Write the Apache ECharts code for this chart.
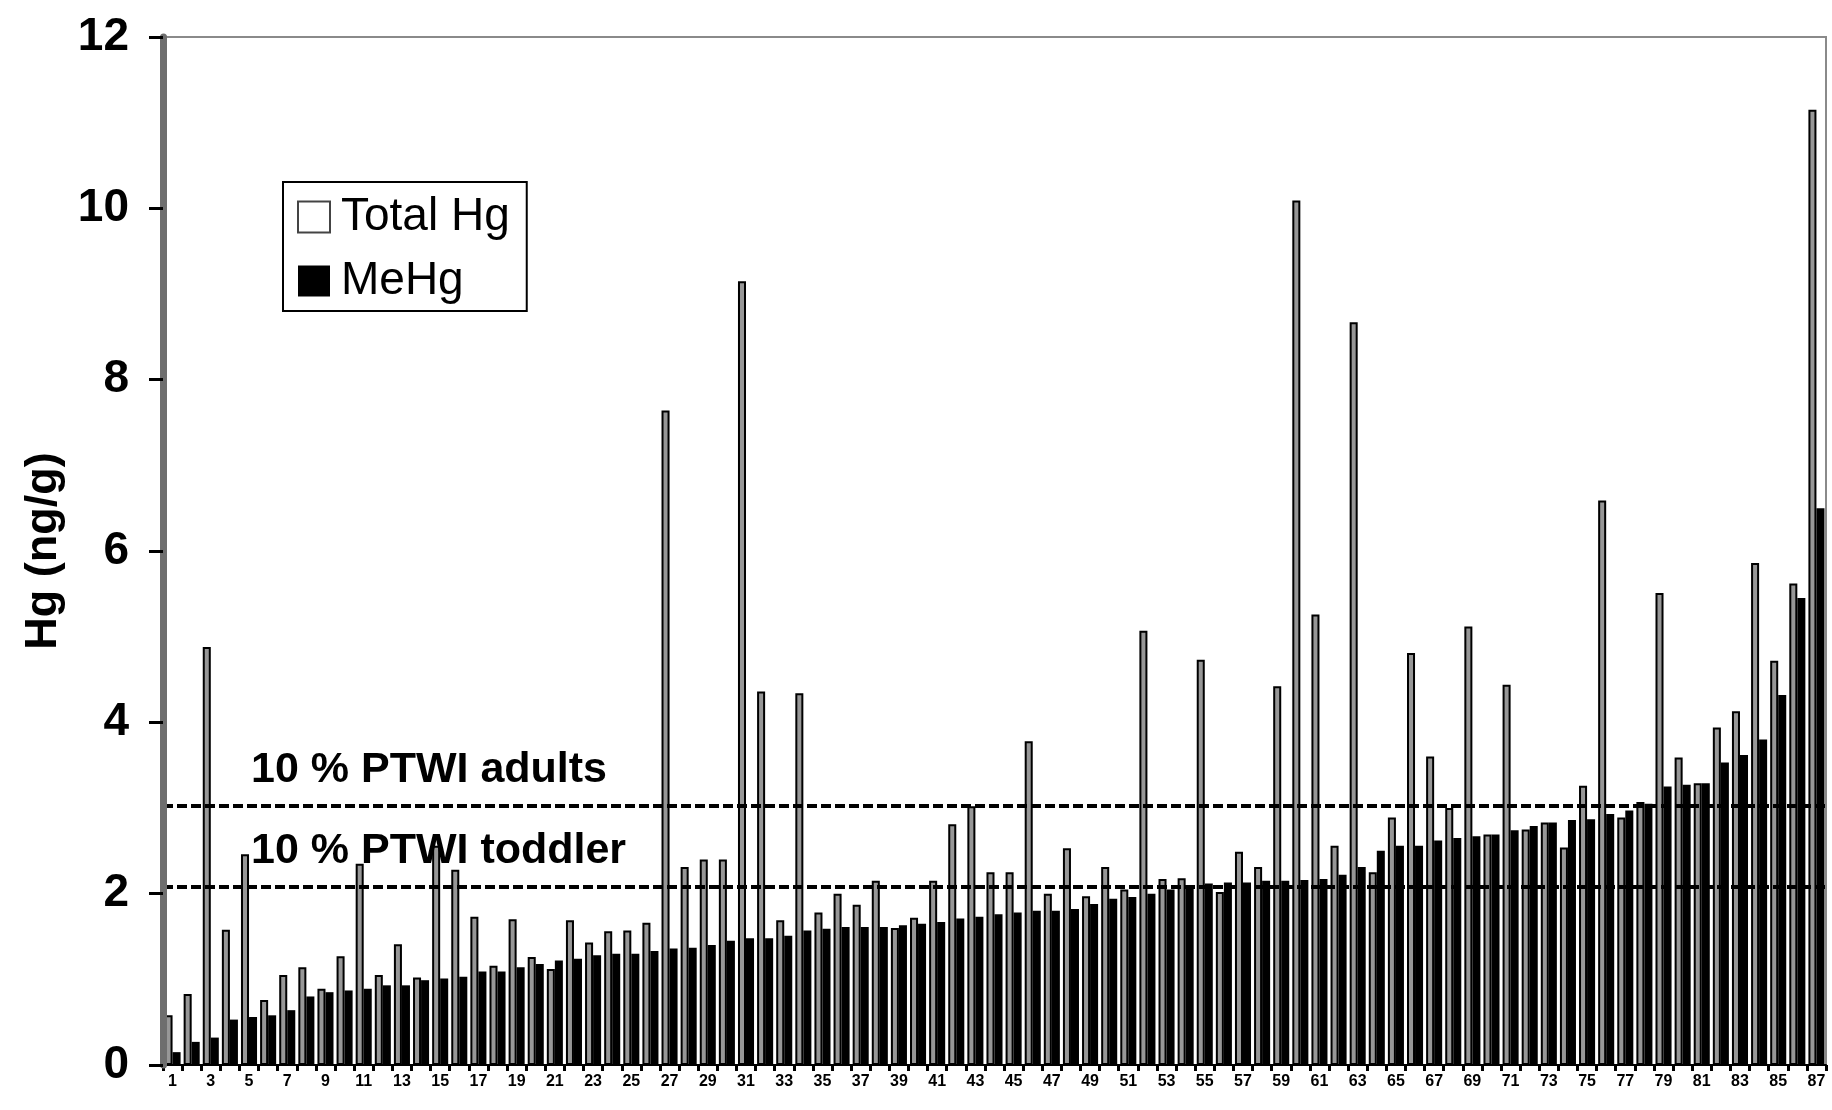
<!DOCTYPE html>
<html>
<head>
<meta charset="utf-8">
<script src="https://cdn.jsdelivr.net/npm/echarts@6/dist/echarts.min.js"></script>
<style>
html,body{margin:0;padding:0;background:#fff;}
#chart{width:1832px;height:1110px;}
</style>
</head>
<body>
<div id="chart"></div>
<script>
const categories = ['1','2','3','4','5','6','7','8','9','10','11','12','13','14','15','16','17','18','19','20',
'21','22','23','24','25','26','27','28','29','30','31','32','33','34','35','36','37','38','39','40',
'41','42','43','44','45','46','47','48','49','50','51','52','53','54','55','56','57','58','59','60',
'61','62','63','64','65','66','67','68','69','70','71','72','73','74','75','76','77','78','79','80',
'81','82','83','84','85','86','87'];

const totalHg = [0.58,0.83,4.88,1.58,2.46,0.76,1.05,1.14,0.89,1.27,
2.35,1.05,1.41,1.02,2.56,2.28,1.73,1.16,1.70,1.26,
1.12,1.69,1.43,1.56,1.57,1.66,7.64,2.31,2.40,2.40,
9.15,4.36,1.69,4.34,1.78,2.00,1.87,2.15,1.60,1.72,
2.15,2.81,3.02,2.25,2.25,3.78,2.00,2.53,1.97,2.31,
2.05,5.07,2.17,2.18,4.73,2.02,2.49,2.31,4.42,10.09,
5.26,2.56,8.67,2.25,2.89,4.81,3.60,3.00,5.12,2.69,
4.44,2.75,2.83,2.54,3.26,6.59,2.89,3.07,5.51,3.59,
3.29,3.94,4.13,5.86,4.72,5.62,11.15];

const meHg = [0.15,0.27,0.32,0.53,0.56,0.58,0.64,0.80,0.85,0.87,
0.89,0.93,0.93,0.99,1.01,1.03,1.09,1.09,1.14,1.18,
1.22,1.24,1.28,1.30,1.30,1.33,1.36,1.37,1.40,1.45,
1.48,1.48,1.51,1.57,1.59,1.61,1.61,1.61,1.63,1.65,
1.67,1.71,1.73,1.76,1.78,1.80,1.80,1.82,1.88,1.94,
1.96,2.00,2.05,2.10,2.12,2.13,2.13,2.15,2.15,2.16,
2.17,2.22,2.31,2.50,2.56,2.56,2.62,2.65,2.67,2.69,
2.74,2.79,2.83,2.86,2.87,2.93,2.97,3.05,3.25,3.27,
3.29,3.53,3.62,3.80,4.32,5.45,6.50];

const ptwiValues = [3.03, 2.08];
const ptwiLabels = ['10 % PTWI adults', '10 % PTWI toddler'];
const seriesNames = ['Total Hg', 'MeHg'];
const yTicks = {min: 0, max: 12, interval: 2};

const FONT = 'Liberation Sans, Arial, sans-serif';
const chart = echarts.init(document.getElementById('chart'), null, {renderer: 'canvas'});

const option = {
  animation: false,
  backgroundColor: '#fff',
  grid: {
    left: 163, right: 6, top: 37, bottom: 45,
    show: true, borderColor: '#8a8a8a', borderWidth: 2, backgroundColor: 'transparent'
  },
  legend: {
    orient: 'vertical',
    left: 283, top: 182,
    padding: [12, 17, 7, 14],
    borderColor: '#000', borderWidth: 2,
    itemWidth: 32, itemHeight: 31, itemGap: 18,
    icon: 'rect',
    textStyle: {fontFamily: FONT, fontSize: 46, color: '#000', padding: [0, 0, 0, 6]},
    data: [
      {name: seriesNames[0], itemStyle: {color: '#fff', borderColor: '#444', borderWidth: 2}},
      {name: seriesNames[1], itemStyle: {color: '#000', borderWidth: 0}}
    ]
  },
  xAxis: {
    type: 'category',
    data: categories,
    boundaryGap: true,
    axisLine: {show: true, lineStyle: {color: '#000', width: 2}},
    axisTick: {show: true, interval: 0, length: 6, lineStyle: {color: '#000', width: 3}},
    axisLabel: {
      interval: 1, margin: 9,
      fontFamily: FONT, fontWeight: 'bold', fontSize: 16, color: '#000'
    },
    splitLine: {show: false}
  },
  yAxis: {
    type: 'value',
    position: 'left',
    min: yTicks.min, max: yTicks.max, interval: yTicks.interval,
    name: 'Hg (ng/g)',
    nameLocation: 'middle',
    nameGap: 97,
    nameRotate: 90,
    nameTextStyle: {fontFamily: FONT, fontWeight: 'bold', fontSize: 45, color: '#000'},
    axisLine: {show: true, onZero: false, lineStyle: {color: '#6e6e6e', width: 7, opacity: 1}},
    axisTick: {show: true, inside: false, length: 14, lineStyle: {color: '#000', width: 3}},
    axisLabel: {
      margin: 34,
      fontFamily: FONT, fontWeight: 'bold', fontSize: 46, color: '#000'
    },
    splitLine: {show: false},
    z: 10
  },
  series: [
    {
      name: seriesNames[0],
      type: 'bar',
      data: totalHg,
      barGap: '0%',
      barCategoryGap: '16%',
      itemStyle: {color: '#979797', borderColor: '#000', borderWidth: 2},
      markLine: {
        silent: true,
        symbol: ['none', 'none'],
        precision: 2,
        lineStyle: {color: '#000', width: 4, type: [10, 4]},
        label: {
          show: true,
          position: 'insideStartTop',
          distance: [88, 14],
          fontFamily: FONT,
          fontWeight: 'bold', fontSize: 43, color: '#000'
        },
        data: ptwiValues.map((v, i) => ({yAxis: v, label: {formatter: ptwiLabels[i]}}))
      }
    },
    {
      name: seriesNames[1],
      type: 'bar',
      data: meHg,
      itemStyle: {color: '#000', borderColor: '#000', borderWidth: 0}
    }
  ]
};

chart.setOption(option);
</script>
</body>
</html>
